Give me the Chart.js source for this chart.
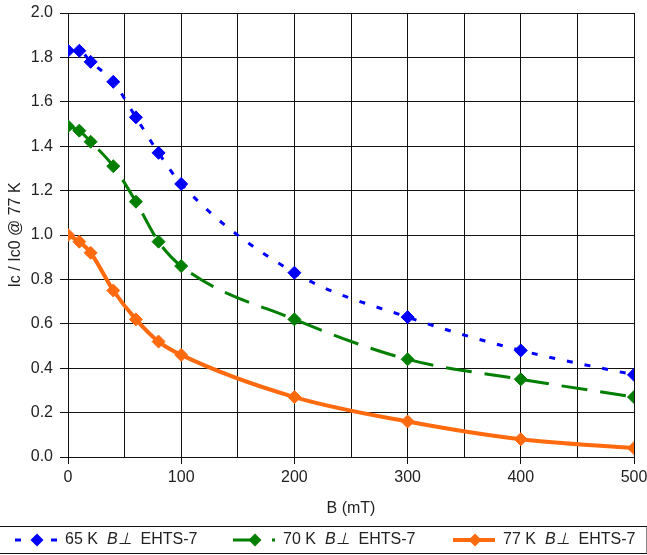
<!DOCTYPE html>
<html>
<head>
<meta charset="utf-8">
<script src="https://cdn.jsdelivr.net/npm/chart.js@4"></script>
<style>
  html, body { margin: 0; padding: 0; background: #fff; }
  #wrap { width: 647px; height: 555px; position: relative; }
</style>
</head>
<body>
<div id="wrap"><canvas id="chart1"></canvas></div>
<script>
// field values (mT) and normalised critical current for each temperature
var bField = [0, 10, 20, 40, 60, 80, 100, 200, 300, 400, 500];
var ic65 = [1.83, 1.83, 1.78, 1.69, 1.53, 1.37, 1.23, 0.83, 0.63, 0.48, 0.37];
var ic70 = [1.49, 1.47, 1.42, 1.31, 1.15, 0.97, 0.86, 0.62, 0.44, 0.35, 0.27];
var ic77 = [1.00, 0.97, 0.92, 0.75, 0.62, 0.52, 0.46, 0.27, 0.16, 0.08, 0.04];
var seriesLabels = ["65 K B⊥ EHTS-7", "70 K B⊥ EHTS-7", "77 K B⊥ EHTS-7"];

var FONT = "Arial, 'Liberation Sans', sans-serif";
var INK = '#111';

function toPoints(ys) {
  return bField.map(function (b, i) { return { x: b, y: ys[i] }; });
}

function series(label, ys, color, dash, width) {
  return {
    label: label,
    data: toPoints(ys),
    borderColor: color,
    backgroundColor: color,
    borderWidth: width,
    borderDash: dash,
    pointStyle: 'rectRot',
    pointRadius: 6.5,
    pointBorderWidth: 1,
    pointBorderColor: color,
    pointBackgroundColor: color,
    cubicInterpolationMode: 'monotone',
    fill: false
  };
}

// legend drawn along the bottom, inside a ruled box
var bottomLegend = {
  id: 'bottomLegend',
  afterDraw: function (chart) {
    var ctx = chart.ctx;
    var startX = [15, 233, 453];
    var y = 540;
    ctx.save();
    ctx.strokeStyle = INK;
    ctx.lineWidth = 1;
    ctx.strokeRect(-1, 526.5, chart.width + 1, 27);
    chart.data.datasets.forEach(function (ds, i) {
      var x0 = startX[i];
      ctx.beginPath();
      ctx.setLineDash(ds.borderDash);
      ctx.strokeStyle = ds.borderColor;
      ctx.lineWidth = ds.borderWidth;
      ctx.moveTo(x0, y);
      ctx.lineTo(x0 + 42, y);
      ctx.stroke();
      ctx.setLineDash([]);
      var cx = x0 + 22, r = 6.5;
      ctx.beginPath();
      ctx.moveTo(cx, y - r); ctx.lineTo(cx + r, y); ctx.lineTo(cx, y + r); ctx.lineTo(cx - r, y);
      ctx.closePath();
      ctx.fillStyle = ds.borderColor;
      ctx.fill();
      // label, with the B⊥ part in italics and wide gaps around it
      var parts = ds.label.split(' B⊥ ');
      var tx = x0 + 50;
      ctx.fillStyle = '#222';
      ctx.textBaseline = 'middle';
      ctx.textAlign = 'left';
      ctx.font = '16px ' + FONT;
      ctx.fillText(parts[0], tx, y);
      tx += ctx.measureText(parts[0]).width + 9;
      ctx.font = 'italic 16px ' + FONT;
      ctx.fillText('B⊥', tx, y);
      tx += ctx.measureText('B⊥').width + 9;
      ctx.font = '16px ' + FONT;
      ctx.fillText(parts[1], tx, y);
    });
    ctx.restore();
  }
};

var ctx = document.getElementById("chart1").getContext('2d');
var myChart = new Chart(ctx, {
  type: 'line',
  data: {
    datasets: [
      series(seriesLabels[0], ic65, '#0000ff', [6, 12], 3),
      series(seriesLabels[1], ic70, '#007f00', [26, 13], 3),
      series(seriesLabels[2], ic77, '#ff6a0f', [], 4)
    ]
  },
  options: {
    responsive: true,
    maintainAspectRatio: false,
    animation: false,
    layout: { padding: { top: 13, right: 13, left: 0, bottom: 35 } },
    plugins: {
      legend: { display: false },
      tooltip: { enabled: false }
    },
    scales: {
      x: {
        type: 'linear',
        min: 0,
        max: 500,
        afterFit: function (s) { s.height = 63; s.paddingLeft = 0; s.paddingRight = 0; },
        ticks: {
          stepSize: 50,
          autoSkip: false,
          maxRotation: 0,
          padding: 4,
          color: '#222',
          font: { family: FONT, size: 16 },
          callback: function (v) { return v % 100 === 0 ? v : ''; }
        },
        grid: {
          color: INK,
          lineWidth: 1,
          tickLength: 7,
          tickColor: function (c) { return c.tick && c.tick.value % 100 === 0 ? INK : 'rgba(0,0,0,0)'; }
        },
        border: { color: INK },
        title: {
          display: true,
          text: 'B (mT)',
          color: '#222',
          font: { family: FONT, size: 16 },
          padding: { top: 0, bottom: 2 }
        }
      },
      y: {
        min: 0,
        max: 2.0,
        afterFit: function (s) { s.width = 68; s.paddingTop = 0; s.paddingBottom = 0; },
        ticks: {
          stepSize: 0.2,
          padding: 7,
          color: '#222',
          font: { family: FONT, size: 16 },
          callback: function (v) { return v.toFixed(1); }
        },
        grid: { color: INK, lineWidth: 1, tickLength: 8 },
        border: { color: INK },
        title: {
          display: true,
          text: 'Ic / Ic0 @ 77 K',
          color: '#222',
          font: { family: FONT, size: 16 },
          padding: { top: 6, bottom: 0 }
        }
      }
    }
  },
  plugins: [bottomLegend]
});
</script>
</body>
</html>
